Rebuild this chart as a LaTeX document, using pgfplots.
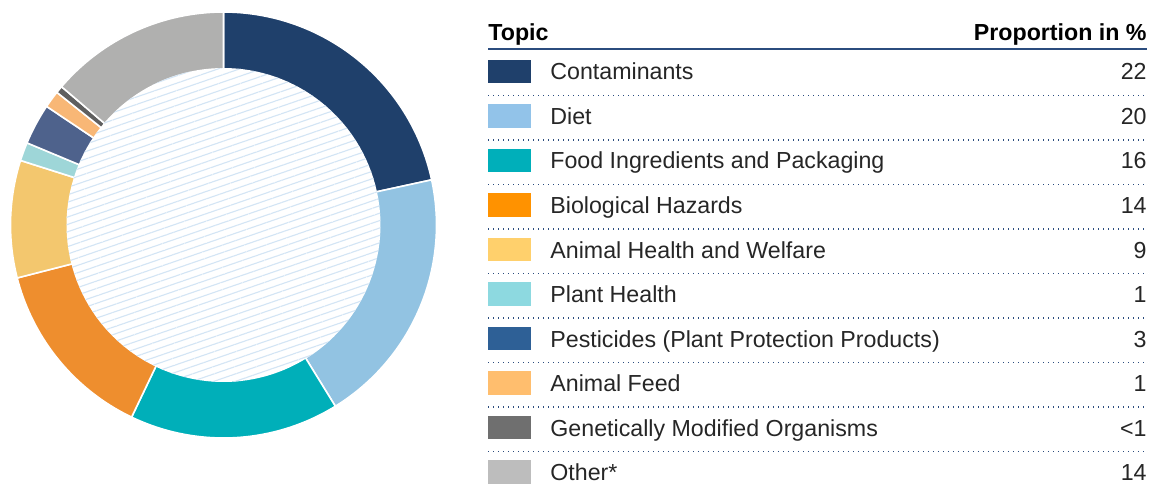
\documentclass[border=0pt]{standalone}
\usepackage{fontspec}
\setmainfont{Liberation Sans}
\usepackage{pgfplots}
\pgfplotsset{compat=1.18}
\usetikzlibrary{patterns.meta}

\definecolor{p1}{HTML}{1F406B}
\definecolor{p2}{HTML}{92C3E2}
\definecolor{p3}{HTML}{00AFB9}
\definecolor{p4}{HTML}{EE8E2E}
\definecolor{p5}{HTML}{F3C76E}
\definecolor{p6}{HTML}{9ED6D8}
\definecolor{p7}{HTML}{4E628C}
\definecolor{p8}{HTML}{F8B776}
\definecolor{p9}{HTML}{5F5F5F}
\definecolor{p10}{HTML}{B0B0AF}
\definecolor{s1}{HTML}{1F406B}
\definecolor{s2}{HTML}{92C3E9}
\definecolor{s3}{HTML}{00AFBA}
\definecolor{s4}{HTML}{FF9200}
\definecolor{s5}{HTML}{FFD06C}
\definecolor{s6}{HTML}{8DD9E0}
\definecolor{s7}{HTML}{2E6096}
\definecolor{s8}{HTML}{FFBE6E}
\definecolor{s9}{HTML}{6F6F6F}
\definecolor{s10}{HTML}{BDBDBD}
\definecolor{hatch}{HTML}{D3E5F5}
\definecolor{rule}{HTML}{2B4C7E}
\definecolor{txt}{HTML}{262626}

\newcommand\rowfont{\fontsize{11.6pt}{14pt}\selectfont}
\newcommand\cum{0}
% pie segment: value in %, colour
\newcommand\pieseg[2]{%
  \pgfmathsetmacro\segA{\cum*3.6}%
  \pgfmathsetmacro\segB{(\cum+#1)*3.6}%
  \pgfmathsetmacro\newcum{\cum+#1}%
  \global\let\cum\newcum
  \edef\temp{\noexpand\addplot[fill=#2, draw=white, line width=0.8pt, domain=\segA:\segB, samples=80] ({223.5+213*sin(x)},{225-213*cos(x)}) -- (axis cs:223.5,225) -- cycle;}%
  \temp}
\pgfplotsset{swatch/.style={only marks, mark=square*, mark size=5.6pt, color=#1, mark options={xscale=1.875, draw=#1, fill=#1, line width=0pt}}}

\begin{document}
\begin{tikzpicture}
\begin{axis}[x=0.5pt, y=0.5pt, xmin=0, xmax=1151, ymin=0, ymax=492,
  y dir=reverse, hide axis, clip=false, scale only axis]
\path (axis cs:0,0) rectangle (axis cs:1151,492);

% donut segments (percent)
\pieseg{21.6}{p1}
\pieseg{19.6}{p2}
\pieseg{15.9}{p3}
\pieseg{13.9}{p4}
\pieseg{8.9}{p5}
\pieseg{1.4}{p6}
\pieseg{3.1}{p7}
\pieseg{1.3}{p8}
\pieseg{0.55}{p9}
\pieseg{13.75}{p10}

% hatched centre
\addplot[fill=white, draw=none, domain=0:360, samples=150] ({223.5+157*sin(x)},{225-157*cos(x)}) -- cycle;
\addplot[draw=none, pattern={Lines[angle=19, distance=3.5pt, line width=0.55pt]}, pattern color=hatch, domain=0:360, samples=150] ({223.5+157*sin(x)},{225-157*cos(x)}) -- cycle;

% table header
\node[anchor=base west, inner sep=0, font=\rowfont\bfseries, text=black] at (axis cs:488,41) {Topic};
\node[anchor=base east, inner sep=0, font=\rowfont\bfseries, text=black] at (axis cs:1147,41) {Proportion in \%};
\draw[rule, line width=1pt] (axis cs:488,49.5) -- (axis cs:1147,49.5);

% separators
\foreach \yy in {95.7,140.2,184.7,229.2,273.7,318.2,362.7,407.2,451.7}{
  \edef\temp{\noexpand\draw[rule, line width=0.75pt, dash pattern=on 0.7pt off 1.8pt] (axis cs:488,\yy) -- (axis cs:1147,\yy);}\temp}

% swatches
\addplot[swatch=s1] coordinates {(509,71.4)};
\addplot[swatch=s2] coordinates {(509,115.9)};
\addplot[swatch=s3] coordinates {(509,160.4)};
\addplot[swatch=s4] coordinates {(509,204.9)};
\addplot[swatch=s5] coordinates {(509,249.4)};
\addplot[swatch=s6] coordinates {(509,293.9)};
\addplot[swatch=s7] coordinates {(509,338.4)};
\addplot[swatch=s8] coordinates {(509,382.9)};
\addplot[swatch=s9] coordinates {(509,427.4)};
\addplot[swatch=s10] coordinates {(509,471.9)};

% labels
\node[anchor=base west, inner sep=0, font=\rowfont, text=txt] at (axis cs:550,80) {Contaminants};
\node[anchor=base west, inner sep=0, font=\rowfont, text=txt] at (axis cs:550,124.5) {Diet};
\node[anchor=base west, inner sep=0, font=\rowfont, text=txt] at (axis cs:550,169) {Food Ingredients and Packaging};
\node[anchor=base west, inner sep=0, font=\rowfont, text=txt] at (axis cs:550,213.5) {Biological Hazards};
\node[anchor=base west, inner sep=0, font=\rowfont, text=txt] at (axis cs:550,258) {Animal Health and Welfare};
\node[anchor=base west, inner sep=0, font=\rowfont, text=txt] at (axis cs:550,302.5) {Plant Health};
\node[anchor=base west, inner sep=0, font=\rowfont, text=txt] at (axis cs:550,347) {Pesticides (Plant Protection Products)};
\node[anchor=base west, inner sep=0, font=\rowfont, text=txt] at (axis cs:550,391.5) {Animal Feed};
\node[anchor=base west, inner sep=0, font=\rowfont, text=txt] at (axis cs:550,436) {Genetically Modified Organisms};
\node[anchor=base west, inner sep=0, font=\rowfont, text=txt] at (axis cs:550,480.5) {Other*};

% values
\node[anchor=base east, inner sep=0, font=\rowfont, text=txt] at (axis cs:1147,80) {22};
\node[anchor=base east, inner sep=0, font=\rowfont, text=txt] at (axis cs:1147,124.5) {20};
\node[anchor=base east, inner sep=0, font=\rowfont, text=txt] at (axis cs:1147,169) {16};
\node[anchor=base east, inner sep=0, font=\rowfont, text=txt] at (axis cs:1147,213.5) {14};
\node[anchor=base east, inner sep=0, font=\rowfont, text=txt] at (axis cs:1147,258) {9};
\node[anchor=base east, inner sep=0, font=\rowfont, text=txt] at (axis cs:1147,302.5) {1};
\node[anchor=base east, inner sep=0, font=\rowfont, text=txt] at (axis cs:1147,347) {3};
\node[anchor=base east, inner sep=0, font=\rowfont, text=txt] at (axis cs:1147,391.5) {1};
\node[anchor=base east, inner sep=0, font=\rowfont, text=txt] at (axis cs:1147,436) {<1};
\node[anchor=base east, inner sep=0, font=\rowfont, text=txt] at (axis cs:1147,480.5) {14};
\end{axis}
\end{tikzpicture}
\end{document}
